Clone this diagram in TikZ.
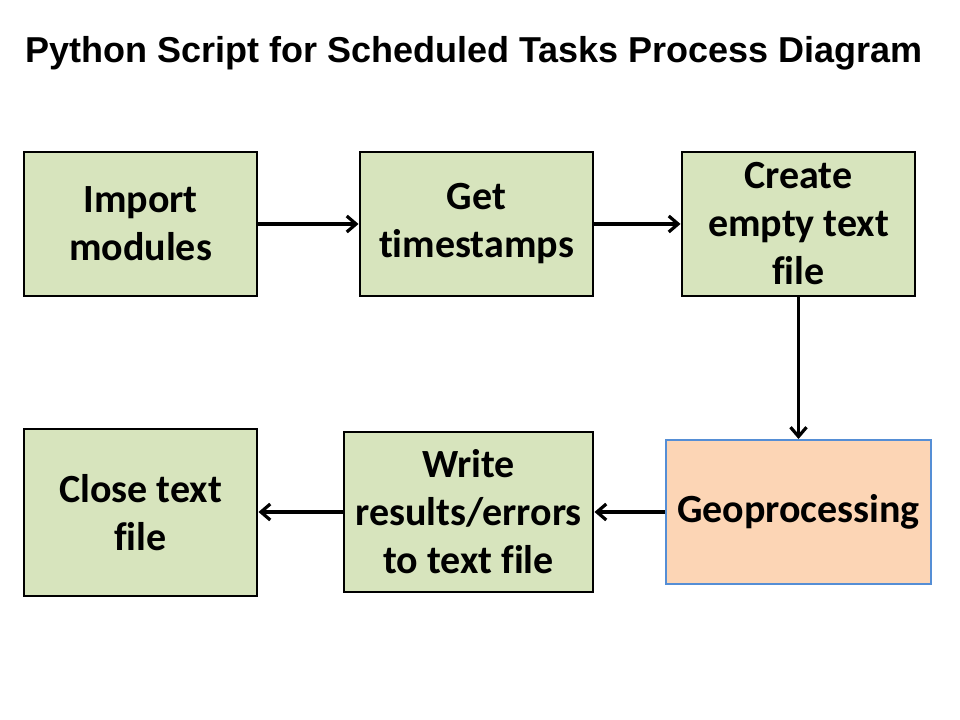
\documentclass[tikz,border=0pt]{standalone}
\usepackage{fontspec}
\setmainfont{Carlito}[Ligatures=NoCommon]
\newfontfamily\titlefont{Liberation Sans}
\usetikzlibrary{arrows.meta}
\definecolor{boxgreen}{HTML}{D7E4BD}
\definecolor{boxpeach}{HTML}{FCD5B5}
\definecolor{boxblue}{HTML}{558ED5}
\begin{document}
\begin{tikzpicture}[x=0.75pt,y=-0.75pt,
  stepbox/.style={draw=black,line width=2.2pt,fill=boxgreen,inner sep=0pt,
    font=\fontsize{30}{36}\selectfont\bfseries,align=center},
  flow/.style={line width=2.4pt,-{Straight Barb[length=7pt,width=12pt,line width=2.4pt]}}]
\useasboundingbox (0,0) rectangle (960,720);
\node[font=\titlefont\fontsize{27}{32}\selectfont\bfseries] (title) at (474,53) {Python Script for Scheduled Tasks Process Diagram};
\node[stepbox,minimum width=174.75pt,minimum height=108pt] (imp) at (140.5,224) {Import\\modules};
\node[stepbox,minimum width=174.75pt,minimum height=108pt] (ts) at (476.5,224) {Get\\timestamps};
\node[stepbox,minimum width=174.75pt,minimum height=108pt] (cr) at (798.5,224) {Create\\empty text\\file};
\node[stepbox,draw=boxblue,line width=1.5pt,fill=boxpeach,minimum width=198.75pt,minimum height=108pt] (geo) at (798.5,512) {Geoprocessing};
\node[stepbox,minimum width=186.75pt,minimum height=120pt] (wr) at (468.5,512) {Write\\results/errors\\to text file};
\node[stepbox,minimum width=174.75pt,minimum height=125.25pt] (cl) at (140.5,512.5) {Close text\\file};
\draw[flow] (imp) -- (ts);
\draw[flow] (ts) -- (cr);
\draw[flow] (cr) -- (geo);
\draw[flow] (geo) -- (wr);
\draw[flow] (wr.west) -- (cl.east |- wr.west);
\end{tikzpicture}
\end{document}
